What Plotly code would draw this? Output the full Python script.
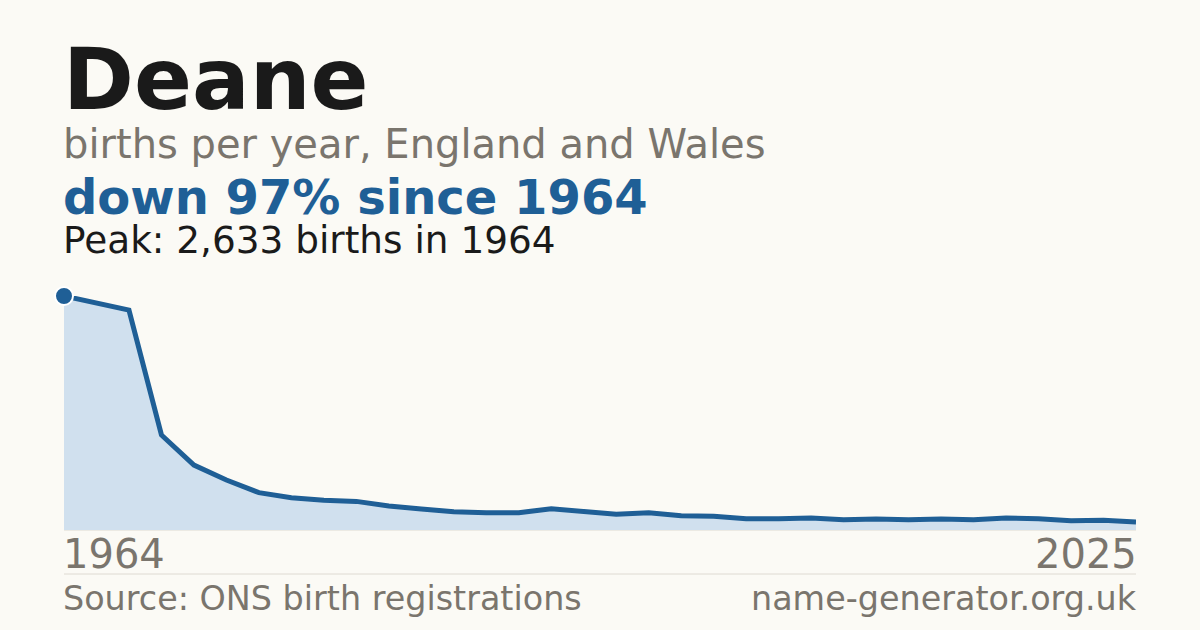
import plotly.graph_objects as go

years = ["1964", "1974", "1984", "1994"] + [str(y) for y in range(1996, 2026)]
births = [2633, 2554, 2475, 1069, 731, 562, 420, 364, 334, 322,
          270, 236, 206, 195, 195, 240, 214, 176, 195, 161,
          154, 127, 127, 135, 116, 124, 116, 124, 116, 135,
          127, 105, 109, 90]

title = "Deane"
subtitle = "births per year, England and Wales"
headline = "down 97% since 1964"
peak_text = "Peak: 2,633 births in 1964"
start_label = "1964"
end_label = "2025"
source_text = "Source: ONS birth registrations"
site_text = "name-generator.org.uk"

BG = "#fbfaf5"
BLUE = "#1f5f96"
FILL = "#d0e0ee"
GREY = "#7a756d"
DARK = "#1a1a1a"
FONT = "DejaVu Sans"

fig = go.Figure()
fig.add_trace(go.Scatter(
    x=years, y=births, mode="lines",
    line=dict(color=BLUE, width=5),
    fill="tozeroy", fillcolor=FILL,
    cliponaxis=False, hoverinfo="skip", showlegend=False,
))
fig.add_trace(go.Scatter(
    x=[years[0]], y=[births[0]], mode="markers",
    marker=dict(color=BLUE, size=18, line=dict(color="white", width=2)),
    cliponaxis=False, hoverinfo="skip", showlegend=False,
))

H = 234.0
W = 1072.0
def py(pix):
    return (530 - pix) / H

dxl = -2 / W
dxr = 1 + 2 / W
annotations = [
    dict(text=f"<b>{title}</b>", x=dxl, y=py(79.5), size=85.5, color=DARK, anchor="left"),
    dict(text=subtitle, x=dxl, y=py(144.2), size=40, color=GREY, anchor="left"),
    dict(text=f"<b>{headline}</b>", x=dxl, y=py(197.4), size=48, color=BLUE, anchor="left"),
    dict(text=peak_text, x=dxl, y=py(240.1), size=37.4, color=DARK, anchor="left"),
    dict(text=start_label, x=dxl, y=py(554.2), size=40, color=GREY, anchor="left"),
    dict(text=end_label, x=dxr, y=py(554.2), size=40, color=GREY, anchor="right"),
    dict(text=source_text, x=dxl, y=py(598.4), size=33.4, color=GREY, anchor="left"),
    dict(text=site_text, x=dxr, y=py(598.4), size=33.4, color=GREY, anchor="right"),
]
for a in annotations:
    fig.add_annotation(
        text=a["text"], x=a["x"], y=a["y"], xref="paper", yref="paper",
        xanchor=a["anchor"], yanchor="middle", showarrow=False,
        font=dict(family=FONT, size=a["size"], color=a["color"]),
        borderpad=0,
    )

for yy in [530, 574]:
    fig.add_shape(type="line", xref="paper", yref="paper",
                  x0=0, x1=1, y0=py(yy), y1=py(yy),
                  line=dict(color="#dedad2", width=1), layer="below")

fig.update_layout(
    width=1200, height=630,
    margin=dict(l=64, r=64, t=296, b=100),
    paper_bgcolor=BG, plot_bgcolor=BG,
    xaxis=dict(type="category", range=[0, len(years) - 1], visible=False,
               fixedrange=True),
    yaxis=dict(range=[0, max(births)], visible=False, fixedrange=True),
    font=dict(family=FONT),
)

fig.write_html("out.html", config={"displayModeBar": False},
               post_script="document.body.style.margin='0';document.body.style.background='#fbfaf5';")
